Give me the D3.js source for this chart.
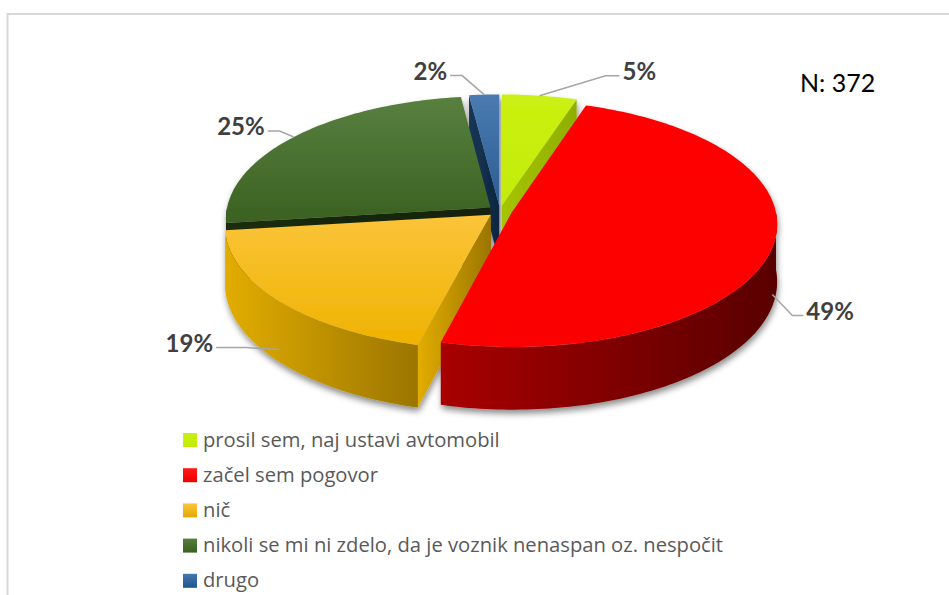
<!DOCTYPE html>
<html>
<head>
<meta charset="utf-8">
<script src="https://cdn.jsdelivr.net/npm/d3@7"></script>
<style>
  body { margin: 0; background: #fff; }
  svg { display: block; }
</style>
</head>
<body>
<div id="chart"></div>
<script>
// Data
const categories = [
  "prosil sem, naj ustavi avtomobil",
  "začel sem pogovor",
  "nič",
  "nikoli se mi ni zdelo, da je voznik nenaspan oz. nespočit",
  "drugo"
];
const shares = [5, 49, 19, 25, 2];
const valueLabels = ["5%", "49%", "19%", "25%", "2%"];
const sampleNote = "N: 372";

// Layout
const width = 949, height = 595;
const cx = 500, cy = 211;      // pie centre
const rx = 264, ry = 122;      // ellipse radii of the top face
const persp = 0.09;            // front wider than back
const depth = 57;              // thickness of the pie
const explode = 0.046;         // slice offset, in radius units
// label line end relative to its anchor: dx, dy, length of the flat part
const labelOffsets = [[80, -20, 14], [31, 21, 11], [-63, -2, 30], [-26, -6, 12], [-34, -19, 12]];

const colors = [
  { top: ["#cbf013", "#c2ec08"], wall: ["#a6c400", "#8fae00"], key: ["#c8ef10", "#c2ec08"] },
  { top: ["#ff0000", "#fb0000"], wall: ["#a80000", "#580000"], key: ["#ff1a1a", "#ee0000"] },
  { top: ["#fbc43a", "#efb300"], wall: ["#e2ad00", "#9b7500"], key: ["#fcc63e", "#e3a700"] },
  { top: ["#58803f", "#3b6121"], wall: ["#1b2b0e", "#15230a"], key: ["#567d3e", "#3b6121"] },
  { top: ["#4a7bb0", "#2b5c92"], wall: ["#163658", "#0e2640"], key: ["#4577ad", "#1f5590"] }
];

const svg = d3.select("#chart")
  .append("svg")
    .attr("width", width)
    .attr("height", height);

const defs = svg.append("defs");

const shadow = defs.append("filter")
    .attr("id", "shadow")
    .attr("x", "-10%").attr("y", "-10%")
    .attr("width", "120%").attr("height", "130%");
shadow.append("feDropShadow")
    .attr("dx", 1).attr("dy", 4)
    .attr("stdDeviation", 3)
    .attr("flood-color", "#000")
    .attr("flood-opacity", 0.45);

colors.forEach(function(c, i) {
  const gt = defs.append("linearGradient").attr("id", "top" + i)
      .attr("x1", 0).attr("y1", 0).attr("x2", 0).attr("y2", 1);
  gt.append("stop").attr("offset", "0%").attr("stop-color", c.top[0]);
  gt.append("stop").attr("offset", "100%").attr("stop-color", c.top[1]);

  const gw = defs.append("linearGradient").attr("id", "wall" + i)
      .attr("x1", 0).attr("y1", 0).attr("x2", 1).attr("y2", 0);
  gw.append("stop").attr("offset", "0%").attr("stop-color", c.wall[0]);
  gw.append("stop").attr("offset", "100%").attr("stop-color", c.wall[1]);

  const gk = defs.append("linearGradient").attr("id", "key" + i)
      .attr("x1", 0).attr("y1", 0).attr("x2", 0).attr("y2", 1);
  gk.append("stop").attr("offset", "0%").attr("stop-color", c.key[0]);
  gk.append("stop").attr("offset", "100%").attr("stop-color", c.key[1]);
});

// chart border (runs off the right and bottom edges)
svg.append("rect")
    .attr("x", 7.5).attr("y", 14)
    .attr("width", 1000).attr("height", 1000)
    .attr("fill", "none")
    .attr("stroke", "#d9d9d9")
    .attr("stroke-width", 2);

// projection of a disc point (X right, Z away from viewer) with drop h
function proj(X, Z, h) {
  const k = 1 / (1 + persp * Z);
  return [cx + X * rx * k, cy - Z * ry * k + (h || 0) * k];
}

const pie = d3.pie().sort(null).value(function(d) { return d; });
const arcs = pie(shares).map(function(a, i) {
  const mid = (a.startAngle + a.endAngle) / 2;
  return {
    i: i,
    a0: a.startAngle,
    a1: a.endAngle,
    mid: mid,
    ox: explode * Math.sin(mid),
    oz: explode * Math.cos(mid)
  };
});

function rimPoint(s, t, h) {
  return proj(s.ox + Math.sin(t), s.oz + Math.cos(t), h);
}

function arcPoints(s, t0, t1, h) {
  const n = Math.max(2, Math.ceil((t1 - t0) / 0.02));
  return d3.range(n + 1).map(function(j) {
    return rimPoint(s, t0 + (t1 - t0) * j / n, h);
  });
}

const line = d3.line();

const pieG = svg.append("g").attr("filter", "url(#shadow)");
const wallsG = pieG.append("g");
const outerG = pieG.append("g");
const topsG = pieG.append("g");

// back slices first, so nearer walls cover farther ones
const byDepth = arcs.slice().sort(function(a, b) { return b.oz - a.oz; });

byDepth.forEach(function(s) {
  const apexTop = proj(s.ox, s.oz, 0);
  const apexBot = proj(s.ox, s.oz, depth);

  // radial walls facing the viewer
  if (Math.sin(s.a0) < -0.01) {
    wallsG.append("path")
      .attr("d", line([apexTop, rimPoint(s, s.a0, 0), rimPoint(s, s.a0, depth), apexBot]) + "Z")
      .attr("fill", "url(#wall" + s.i + ")");
  }
  if (-Math.sin(s.a1) < -0.01) {
    wallsG.append("path")
      .attr("d", line([apexTop, rimPoint(s, s.a1, 0), rimPoint(s, s.a1, depth), apexBot]) + "Z")
      .attr("fill", "url(#wall" + s.i + ")");
  }

  // outer curved wall, front half only
  const t0 = Math.max(s.a0, Math.PI / 2);
  const t1 = Math.min(s.a1, Math.PI * 1.5);
  if (t1 > t0) {
    const pts = arcPoints(s, t0, t1, 0).concat(arcPoints(s, t0, t1, depth).reverse());
    outerG.append("path")
      .attr("d", line(pts) + "Z")
      .attr("fill", "url(#wall" + s.i + ")");
  }

  // top face
  topsG.append("path")
    .attr("d", line([apexTop].concat(arcPoints(s, s.a0, s.a1, 0))) + "Z")
    .attr("fill", "url(#top" + s.i + ")");
});

// data labels with leader lines
const labelG = svg.append("g");
arcs.forEach(function(s, i) {
  const front = Math.cos(s.mid) < 0;
  const anchor = rimPoint(s, s.mid, front ? depth * 0.8 : 0);
  const off = labelOffsets[i];
  const end = [anchor[0] + off[0], anchor[1] + off[1]];
  const dir = off[0] >= 0 ? 1 : -1;
  const elbow = [end[0] - dir * off[2], end[1]];

  labelG.append("path")
    .attr("d", line([anchor, elbow, end]))
    .attr("fill", "none")
    .attr("stroke", "#a6a6a6")
    .attr("stroke-width", 1.5);

  labelG.append("text")
    .attr("x", end[0] + dir * 3)
    .attr("y", end[1] - 4)
    .attr("dy", "0.35em")
    .attr("text-anchor", dir > 0 ? "start" : "end")
    .attr("font-family", "Lato, 'Open Sans', sans-serif")
    .attr("font-weight", "bold")
    .attr("font-size", 24)
    .attr("fill", "#404040")
    .text(valueLabels[i]);
});

svg.append("text")
    .attr("x", 800)
    .attr("y", 92)
    .attr("font-family", "Lato, 'Open Sans', sans-serif")
    .attr("font-size", 25)
    .attr("fill", "#000")
    .text(sampleNote);

// legend
const legend = svg.append("g").attr("transform", "translate(183,440)");
const rows = legend.selectAll("g")
  .data(categories)
  .join("g")
    .attr("transform", function(d, i) { return "translate(0," + (i * 35.2) + ")"; });

rows.append("rect")
    .attr("x", 0).attr("y", -7)
    .attr("width", 14).attr("height", 14)
    .attr("fill", function(d, i) { return "url(#key" + i + ")"; });

rows.append("text")
    .attr("x", 20)
    .attr("y", 0)
    .attr("dy", "0.33em")
    .attr("font-family", "'Open Sans', sans-serif")
    .attr("font-size", 20.2)
    .attr("fill", "#595959")
    .text(function(d) { return d; });
</script>
</body>
</html>
